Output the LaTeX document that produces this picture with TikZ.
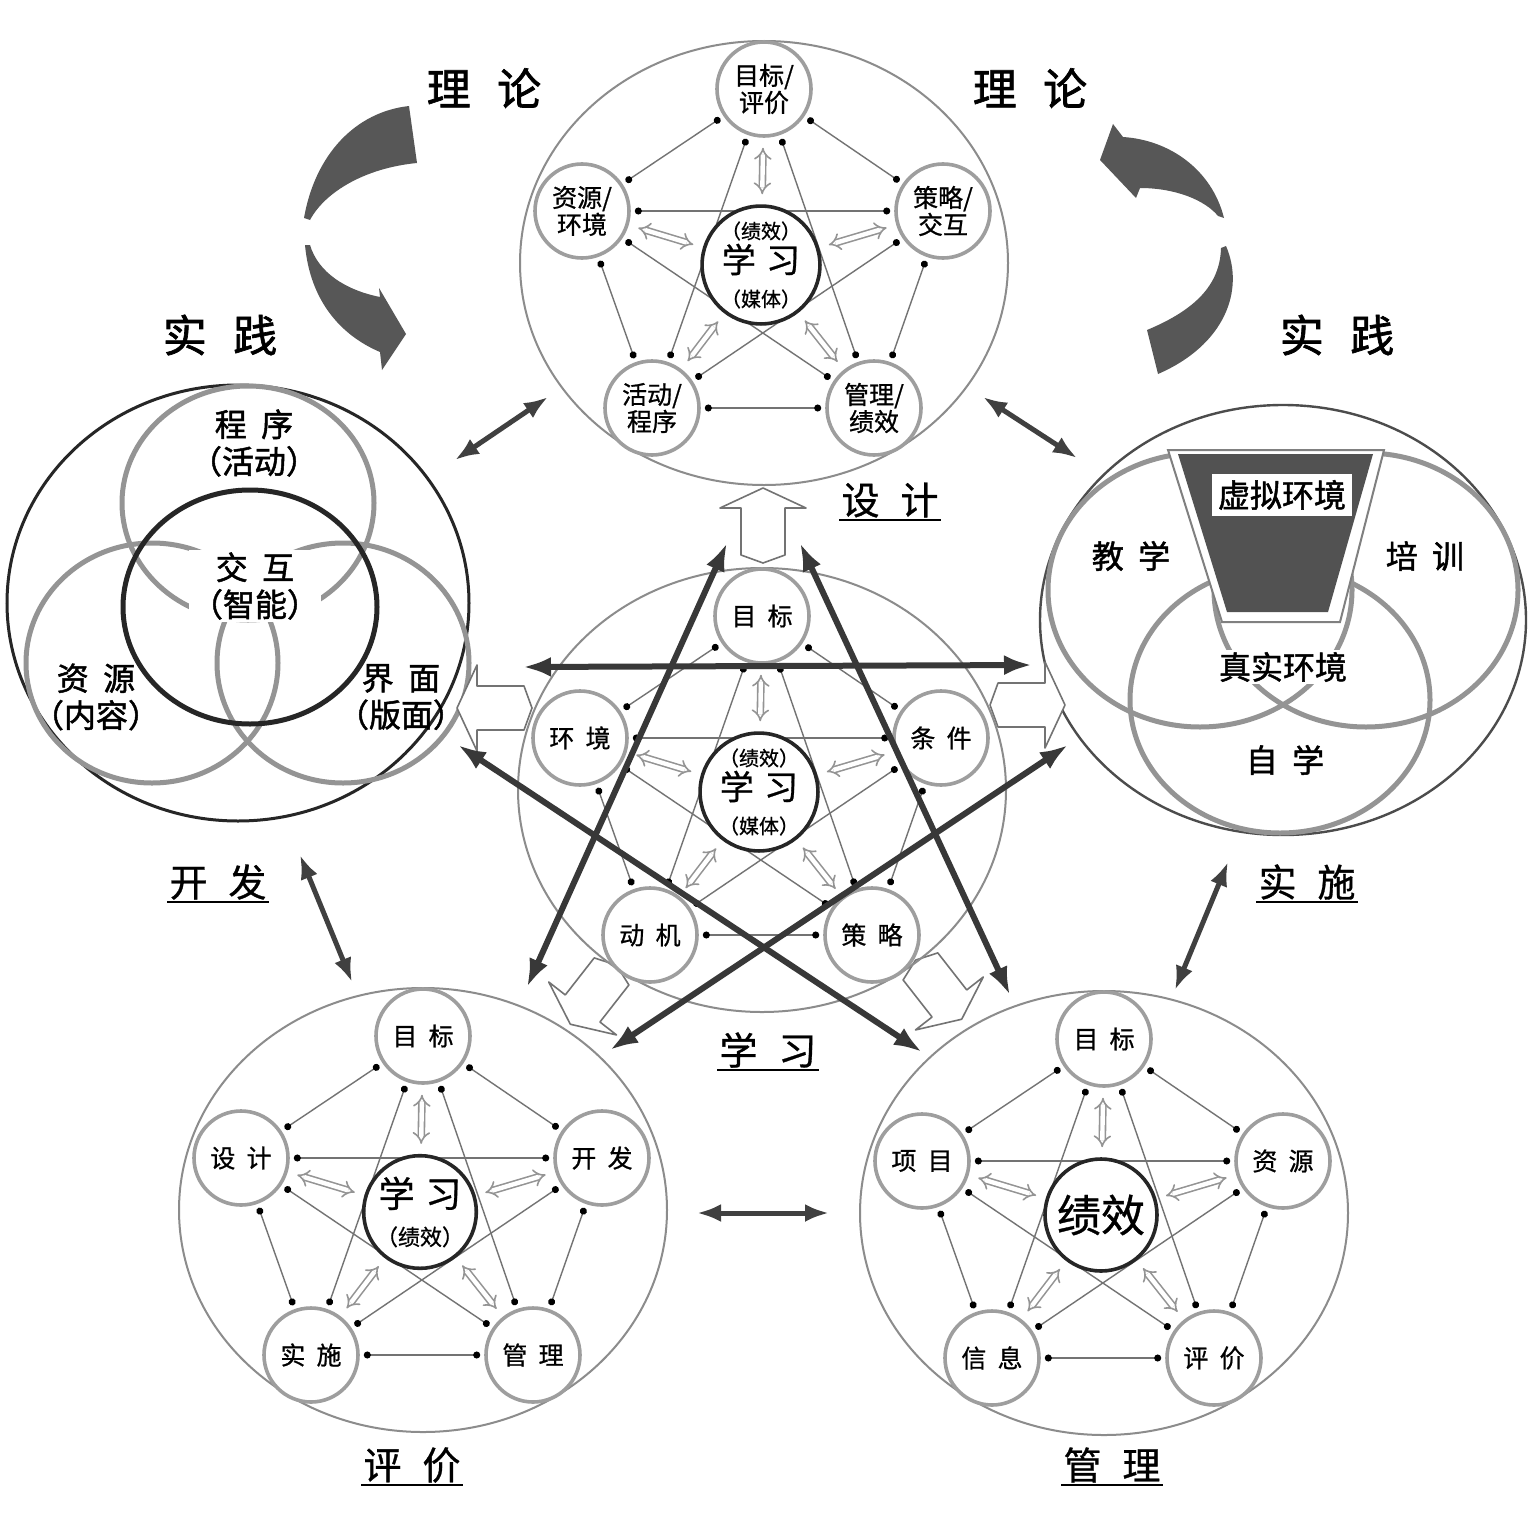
\documentclass[tikz,border=0pt]{standalone}
\usepackage{fontspec}
\setmainfont{Noto Sans CJK SC}
\newfontfamily\cjkbold{Noto Sans CJK SC}[FakeBold=1.5]
\newfontfamily\cjkmed{Noto Sans CJK SC}[FakeBold=0.8]
\usetikzlibrary{arrows.meta}
\pgfdeclarelayer{bg}
\pgfsetlayers{bg,main}
\newcommand\cjgap{\hspace{0.45em}}
\tikzset{
  ring/.style={draw=black!45, line width=1pt},
  pnode/.style={circle, draw=black!38, line width=1.8pt, fill=white, minimum size=47pt, inner sep=0pt, align=center, font=\cjkmed\fontsize{12.5}{13.5}\selectfont},
  cnode/.style={circle, draw=black!85, line width=1.8pt, fill=white, minimum size=56pt, inner sep=0pt, align=center, font=\cjkmed\fontsize{10}{17}\selectfont},
  link/.style={draw=black!55, line width=0.7pt, {Circle[length=3.5pt,color=black]}-{Circle[length=3.5pt,color=black]}, shorten <=2pt, shorten >=2pt},
  dbl/.style={draw=black!42, double=white, double distance=2.2pt, line width=0.8pt, {Implies}-{Implies}, shorten <=5pt, shorten >=5pt},
  starline/.style={draw=black!78, line width=3pt, {Latex[length=14pt,width=10pt]}-{Latex[length=14pt,width=10pt]}},
  modlink/.style={draw=black!75, line width=2.5pt, {Latex[length=12pt,width=9pt]}-{Latex[length=12pt,width=9pt]}},
  blockarrow/.style={draw=black!55, fill=white, line width=0.8pt, line join=round},
  venn/.style={draw=black!42, line width=2.5pt},
  curv/.style={fill=black!66},
  title/.style={font=\cjkbold\fontsize{22}{24}\selectfont},
  ulabel/.style={font=\cjkmed\fontsize{19}{21}\selectfont, inner sep=1pt},
  venntext/.style={font=\cjkbold\fontsize{16}{18.5}\selectfont, align=center},
}
\newcommand\pentamod[9]{%
  \draw[ring] (#2,#3) ellipse [x radius=244, y radius=222];
  \begin{scope}[shift={(#2,#3)}]
    \node[pnode] (#1-t) at (0,-174) {#4};
    \node[pnode] (#1-l) at (-182,-52) {#5};
    \node[pnode] (#1-r) at (179,-52) {#6};
    \node[pnode] (#1-bl) at (-112,145) {#7};
    \node[pnode] (#1-br) at (110,145) {#8};
    \node[cnode] (#1-c) at (-3,2) {#9};
  \end{scope}
  \begin{pgfonlayer}{bg}
    \foreach \a/\b in {t/l,t/r,l/bl,r/br,bl/br,t/bl,t/br,l/r,l/br,r/bl}{\draw[link] (#1-\a) -- (#1-\b);}
    \foreach \a in {t,l,r,bl,br}{\draw[dbl] (#1-c) -- (#1-\a);}
  \end{pgfonlayer}
}
% hollow block arrow: #1 x, #2 y, #3 direction angle
\newcommand\hollowarrow[3]{%
  \begin{scope}[shift={(#1,#2)}, rotate=#3]
    \draw[blockarrow] (-35,-22) -- (12,-22) -- (12,-43) -- (32,0) -- (12,43) -- (12,22) -- (-35,22) -- (-43,0) -- cycle;
  \end{scope}
}
\begin{document}
\begin{tikzpicture}[x=0.5pt,y=-0.5pt]
\begin{pgfonlayer}{bg}
  \fill[white] (0,0) rectangle (1536,1536);
\end{pgfonlayer}
\useasboundingbox (0,0) rectangle (1536,1536);

% curved arrows (theory <-> practice)
\fill[curv] (409,106) .. controls (355,112) and (315,155) .. (304,218) -- (310,220) .. controls (325,192) and (365,168) .. (417,163) -- cycle;
\fill[curv] (305,245) .. controls (310,300) and (340,335) .. (380,352) -- (382,370) -- (406,334) -- (379,288) -- (380,297) .. controls (345,290) and (318,272) .. (310,245) -- cycle;
\fill[curv] (1100,160) -- (1113,124) -- (1123,137) .. controls (1170,140) and (1212,170) .. (1224,218) -- (1218,216) .. controls (1205,200) and (1175,188) .. (1140,188) -- (1136,198) -- cycle;
\fill[curv] (1226,246) .. controls (1245,290) and (1225,345) .. (1158,374) -- (1147,330) .. controls (1195,310) and (1220,285) .. (1221,248) -- cycle;

% left Venn module (development)
\draw[black!85, line width=1.5pt] (238,603) ellipse [x radius=231, y radius=218];
\draw[venn] (248,503) ellipse [x radius=126, y radius=117];
\draw[venn] (152,663) ellipse [x radius=126, y radius=120];
\draw[venn] (343,663) ellipse [x radius=126, y radius=120];
\draw[black!85, line width=2.5pt] (250,607) ellipse [x radius=127, y radius=117];
\node[venntext] (v1) at (254,443) {程\cjgap 序\\（活动）};
\node[venntext, fill=white, inner sep=1pt] (v2) at (255,586) {交\cjgap 互\\（智能）};
\node[venntext] (v3) at (96,697) {资\cjgap 源\\（内容）};
\node[venntext] (v4) at (401,697) {界\cjgap 面\\（版面）};

% right Venn module (implementation)
\draw[black!70, line width=1.2pt] (1283,620) ellipse [x radius=243, y radius=215];
\draw[venn] (1200,590) ellipse [x radius=152, y radius=137];
\draw[venn] (1366,590) ellipse [x radius=152, y radius=137];
\draw[venn] (1280,700) ellipse [x radius=150, y radius=133];
\filldraw[fill=white, draw=black!50, line width=1pt] (1168,450) -- (1384,450) -- (1340,622) -- (1222,622) -- cycle;
\fill[black!68] (1178,454) -- (1373,454) -- (1328,612) -- (1227,612) -- cycle;
\node[venntext, fill=white, inner sep=3pt] (v5) at (1282,495) {虚拟环境};
\node[venntext] (v6) at (1131,556) {教\cjgap 学};
\node[venntext] (v7) at (1425,556) {培\cjgap 训};
\node[venntext, fill=white, inner sep=1pt] (v8) at (1283,667) {真实环境};
\node[venntext] (v9) at (1285,760) {自\cjgap 学};

% hollow block arrows (from learning to the other modules)
\hollowarrow{763}{520}{90}
\hollowarrow{489}{708}{180}
\hollowarrow{1033}{705}{0}
\hollowarrow{590}{999}{232}
\hollowarrow{942}{994}{308}

% pentagram modules
\pentamod{top}{764}{263}{目标/\\评价}{资源/\\环境}{策略/\\交互}{活动/\\程序}{管理/\\绩效}{（绩效）\\{\fontsize{17}{17}\selectfont 学\hspace{0.3em}习}\\（媒体）}
\pentamod{mid}{762}{790}{目\cjgap 标}{环\cjgap 境}{条\cjgap 件}{动\cjgap 机}{策\cjgap 略}{（绩效）\\{\fontsize{17}{17}\selectfont 学\hspace{0.3em}习}\\（媒体）}
\pentamod{pj}{423}{1210}{目\cjgap 标}{设\cjgap 计}{开\cjgap 发}{实\cjgap 施}{管\cjgap 理}{{\fontsize{18}{18}\selectfont 学\hspace{0.3em}习}\\[2pt]{\fontsize{11}{12}\selectfont （绩效）}}
\pentamod{gl}{1104}{1213}{目\cjgap 标}{项\cjgap 目}{资\cjgap 源}{信\cjgap 息}{评\cjgap 价}{{\fontsize{22}{22}\selectfont 绩效}}

% big star of connectors
\coordinate (s1a) at (523,667); \coordinate (s1b) at (1032,665);
\coordinate (s2a) at (727,543); \coordinate (s2b) at (527,987);
\coordinate (s3a) at (800,543); \coordinate (s3b) at (1010,995);
\coordinate (s4a) at (458,745); \coordinate (s4b) at (922,1052);
\coordinate (s5a) at (1068,745); \coordinate (s5b) at (610,1050);
\draw[starline] (s1a) -- (s1b);
\draw[starline] (s2a) -- (s2b);
\draw[starline] (s3a) -- (s3b);
\draw[starline] (s4a) -- (s4b);
\draw[starline] (s5a) -- (s5b);

% links between modules
\coordinate (m1a) at (548,397); \coordinate (m1b) at (455,460);
\coordinate (m2a) at (983,397); \coordinate (m2b) at (1077,458);
\coordinate (m3a) at (300,855); \coordinate (m3b) at (352,982);
\coordinate (m4a) at (1228,862); \coordinate (m4b) at (1175,990);
\coordinate (m5a) at (697,1213); \coordinate (m5b) at (829,1213);
\draw[modlink] (m1a) -- (m1b);
\draw[modlink] (m2a) -- (m2b);
\draw[modlink] (m3a) -- (m3b);
\draw[modlink] (m4a) -- (m4b);
\draw[modlink] (m5a) -- (m5b);

% titles
\node[title] (t1) at (484,88) {理\hspace{0.6em}论};
\node[title] (t2) at (1030,88) {理\hspace{0.6em}论};
\node[title] (t3) at (220,335) {实\hspace{0.6em}践};
\node[title] (t4) at (1337,335) {实\hspace{0.6em}践};

% underlined module labels
\foreach \n/\x/\y/\txt in {u1/890/500/设\hspace{0.55em}计, u2/218/882/开\hspace{0.55em}发, u3/1307/882/实\hspace{0.55em}施, u4/768/1050/学\hspace{0.55em}习, u5/412/1465/评\hspace{0.55em}价, u6/1112/1465/管\hspace{0.55em}理}{
  \node[ulabel] (\n) at (\x,\y) {\txt};
  \draw[line width=1.3pt] (\n.south west) -- (\n.south east);
}
\end{tikzpicture}
\end{document}
